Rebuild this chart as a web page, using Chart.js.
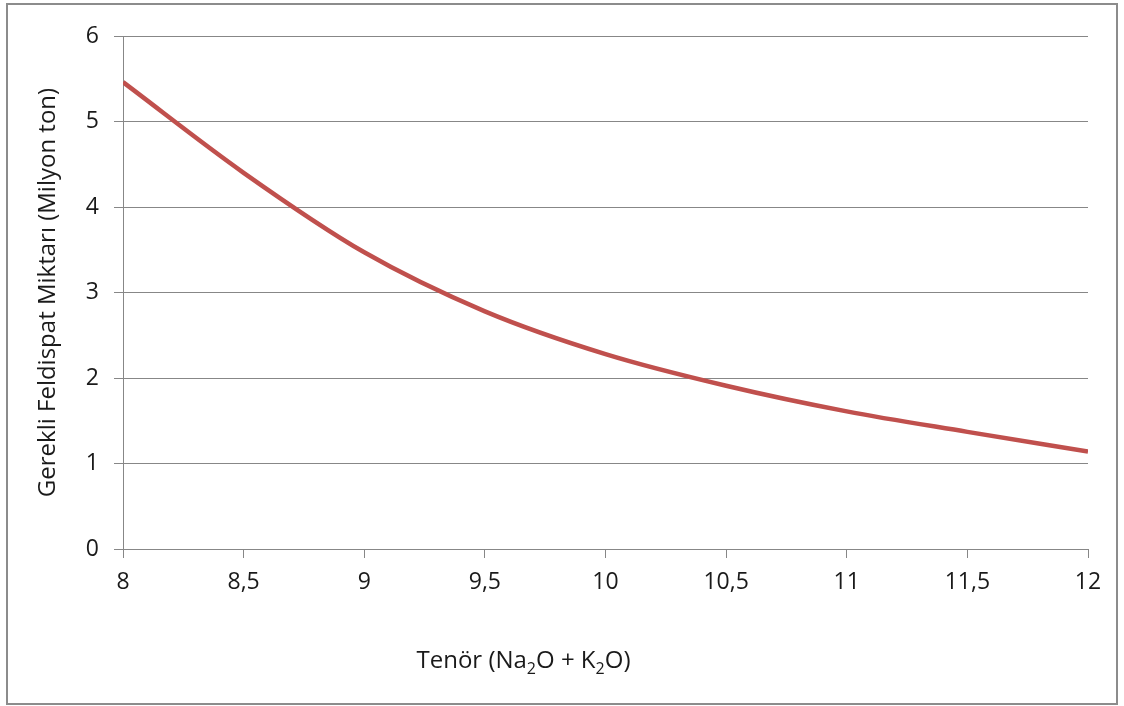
<!DOCTYPE html>
<html>
<head>
<meta charset="utf-8">
<script src="https://cdn.jsdelivr.net/npm/chart.js@4.4.1/dist/chart.umd.min.js"></script>
<style>
    body { margin: 0; background: #fff; }
    #kutu {
        position: absolute;
        left: 6px;
        top: 3px;
        width: 1108px;
        height: 698px;
        border: 2px solid #8c8c8c;
    }
</style>
</head>
<body>
<div id="kutu"><canvas id="grafik" width="1108" height="698"></canvas></div>
<script>
// Veriler
const tenor = [8, 8.5, 9, 9.5, 10, 10.5, 11, 11.5, 12];
const miktar = [5.46, 4.40, 3.47, 2.78, 2.28, 1.91, 1.61, 1.37, 1.14];

// Eksen etiketleri
const xTickDegerleri = [8, 8.5, 9, 9.5, 10, 10.5, 11, 11.5, 12];
const xTickEtiketleri = ['8', '8,5', '9', '9,5', '10', '10,5', '11', '11,5', '12'];
const yTickEtiketleri = ['0', '1', '2', '3', '4', '5', '6'];

const yBaslik = 'Gerekli Feldispat Miktarı (Milyon ton)';
// X başlığı alt simgeli parçalar halinde
const xBaslikParcalari = [
    { text: 'Tenör (Na', sub: false },
    { text: '2', sub: true },
    { text: 'O + K', sub: false },
    { text: '2', sub: true },
    { text: 'O)', sub: false }
];

const yazi = '"Open Sans", "DejaVu Sans", sans-serif';
const gri = '#878787';

// X ekseni başlığını alt simgelerle çizen eklenti
const xBaslikEklentisi = {
    id: 'xBaslik',
    afterDraw(chart) {
        const ctx = chart.ctx;
        const alan = chart.chartArea;
        const normal = '24px ' + yazi;
        const kucuk = '16px ' + yazi;
        let genislik = 0;
        xBaslikParcalari.forEach(p => {
            ctx.font = p.sub ? kucuk : normal;
            genislik += ctx.measureText(p.text).width;
        });
        let x = alan.left + (alan.right - alan.left) * 0.415 - genislik / 2;
        const y = alan.bottom + 119;
        ctx.save();
        ctx.fillStyle = '#1a1a1a';
        ctx.textBaseline = 'alphabetic';
        ctx.textAlign = 'left';
        xBaslikParcalari.forEach(p => {
            ctx.font = p.sub ? kucuk : normal;
            ctx.fillText(p.text, x, p.sub ? y + 6 : y);
            x += ctx.measureText(p.text).width;
        });
        ctx.restore();
    }
};

const ctx = document.getElementById('grafik').getContext('2d');
const grafik = new Chart(ctx, {
    type: 'line',
    data: {
        datasets: [{
            label: 'Feldispat',
            data: tenor.map((t, i) => ({ x: t, y: miktar[i] })),
            borderColor: '#C0504D',
            borderWidth: 4.5,
            pointRadius: 0,
            fill: false,
            cubicInterpolationMode: 'monotone'
        }]
    },
    options: {
        responsive: false,
        animation: false,
        layout: {
            padding: { top: 31, right: 28, left: 0, bottom: 0 }
        },
        plugins: {
            legend: { display: false },
            tooltip: { enabled: false }
        },
        scales: {
            x: {
                type: 'linear',
                min: 8,
                max: 12,
                afterFit: (s) => { s.height = 154; },
                afterBuildTicks: (s) => {
                    s.ticks = xTickDegerleri.map(v => ({ value: v }));
                },
                ticks: {
                    color: '#1a1a1a',
                    font: { family: yazi, size: 23 },
                    padding: 11,
                    maxRotation: 0,
                    autoSkip: false,
                    callback: (value) => {
                        const i = xTickDegerleri.indexOf(Math.round(value * 2) / 2);
                        return i >= 0 ? xTickEtiketleri[i] : '';
                    }
                },
                grid: {
                    drawOnChartArea: false,
                    drawTicks: true,
                    tickLength: 9,
                    color: gri
                },
                border: { color: gri, width: 1 }
            },
            y: {
                min: 0,
                max: 6,
                afterFit: (s) => { s.width = 115; },
                ticks: {
                    stepSize: 1,
                    color: '#1a1a1a',
                    font: { family: yazi, size: 23 },
                    padding: 15,
                    callback: (value) => yTickEtiketleri[value] ?? ''
                },
                grid: {
                    color: gri,
                    tickLength: 9
                },
                border: { color: gri, width: 1 },
                title: {
                    display: true,
                    text: yBaslik,
                    color: '#1a1a1a',
                    font: { family: yazi, size: 24 },
                    padding: { top: 26, bottom: 0 }
                }
            }
        }
    },
    plugins: [xBaslikEklentisi]
});
</script>
</body>
</html>
